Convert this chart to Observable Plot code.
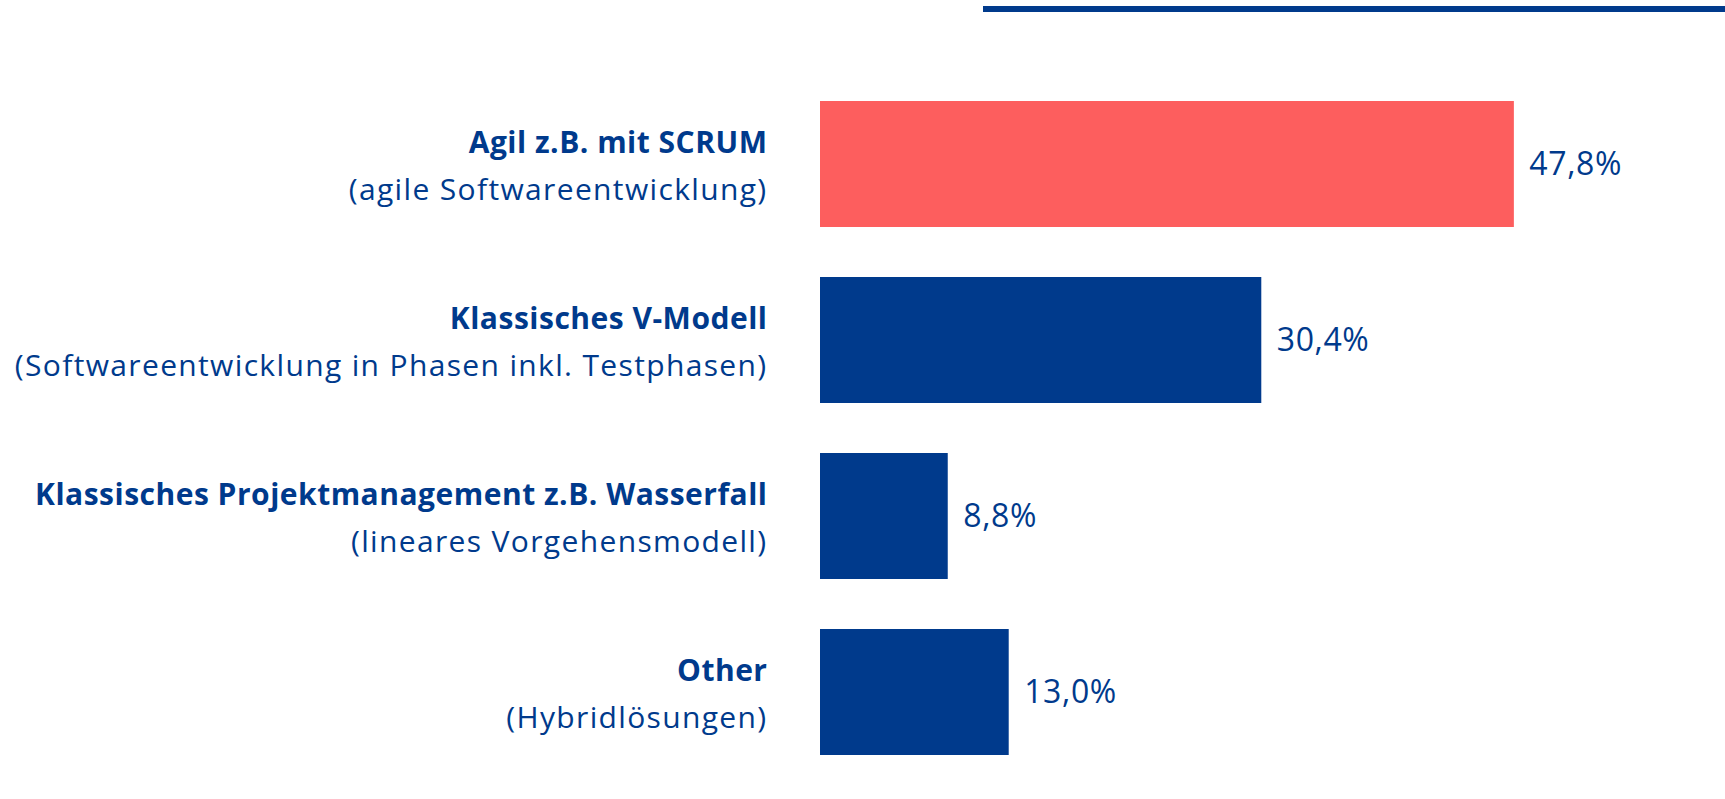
<!DOCTYPE html>
<html>
<head>
<meta charset="utf-8">
<script src="https://cdn.jsdelivr.net/npm/d3@7"></script>
<script src="https://cdn.jsdelivr.net/npm/@observablehq/plot@0.6"></script>
<style>
  html, body { margin: 0; padding: 0; background: #fff; }
  #wrap { position: relative; width: 1725px; height: 799px; }
  #topline { position: absolute; left: 983px; top: 6px; width: 742px; height: 6px; background: #003A8C; }
</style>
</head>
<body>
<div id="wrap"><div id="topline"></div></div>
<script>
const categories = ["Agil z.B. mit SCRUM", "Klassisches V-Modell", "Klassisches Projektmanagement z.B. Wasserfall", "Other"];
const subtitles = ["(agile Softwareentwicklung)", "(Softwareentwicklung in Phasen inkl. Testphasen)", "(lineares Vorgehensmodell)", "(Hybridlösungen)"];
const values = [47.8, 30.4, 8.8, 13.0];
const barColors = ["#FD5E5E", "#003A8C", "#003A8C", "#003A8C"];

const data = categories.map((c, i) => ({
  cat: c, sub: subtitles[i], value: values[i], color: barColors[i],
  label: values[i].toFixed(1).replace(".", ",") + "%"
}));

const blue = "#003A8C";
const font = "'Open Sans', sans-serif";

const chart = Plot.plot({
  width: 1725,
  height: 799,
  marginLeft: 820,
  marginRight: 5,
  marginTop: 83,
  marginBottom: 26,
  style: { fontFamily: font, background: "transparent" },
  x: { domain: [0, 62], axis: null },
  y: { domain: categories, paddingInner: 0.284, paddingOuter: 0.1, axis: null },
  marks: [
    Plot.barX(data, { x: "value", y: "cat", fill: "color" }),
    Plot.text(data, { x: "value", y: "cat", text: "label", textAnchor: "start", dx: 15, fill: blue, fontSize: 32 }),
    Plot.text(data, { y: "cat", text: "cat", frameAnchor: "left", textAnchor: "end", dx: -53, dy: -21, fill: blue, fontSize: 30, fontWeight: "bold" }),
    Plot.text(data, { y: "cat", text: "sub", frameAnchor: "left", textAnchor: "end", dx: -53, dy: 26, fill: blue, fontSize: 30 })
  ]
});
const spacings = ["0.6px", "0.5px", "1.35px"];
d3.select(chart).selectAll('g[aria-label="text"]').each(function(_, i) {
  d3.select(this).attr("letter-spacing", spacings[i]);
});
document.getElementById("wrap").appendChild(chart);
</script>
</body>
</html>
